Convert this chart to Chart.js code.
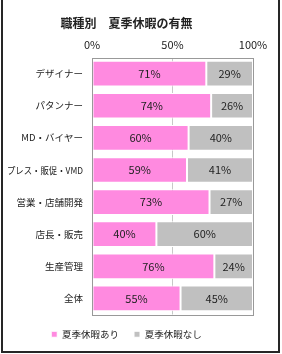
<!DOCTYPE html>
<html lang="ja">
<head>
  <meta charset="UTF-8">
  <title>職種別 夏季休暇の有無</title>
  <script src="https://cdn.jsdelivr.net/npm/chart.js"></script>
  <style>
    html, body { margin: 0; padding: 0; background: #fff; }
    #wrap { position: relative; width: 282px; height: 354px; }
    #frame {
      position: absolute; left: 1px; top: -2px; width: 275px; height: 351px;
      border: 2px solid #262626; pointer-events: none;
    }
  </style>
</head>
<body>
  <div id="wrap">
    <canvas id="chart" width="282" height="354"></canvas>
    <div id="frame"></div>
  </div>

  <script>
    // データ
    const categories = ['デザイナー', 'パタンナー', 'MD・バイヤー', 'プレス・販促・VMD', '営業・店舗開発', '店長・販売', '生産管理', '全体'];
    const withVacation = [71, 74, 60, 59, 73, 40, 76, 55];
    const withoutVacation = [29, 26, 40, 41, 27, 60, 24, 45];
    const seriesNames = ['夏季休暇あり', '夏季休暇なし'];
    const xTicks = [0, 50, 100];

    const FONT = '"Noto Sans CJK JP", "Noto Sans", sans-serif';

    // 各バーの中央に値を描く
    const valueLabels = {
      id: 'valueLabels',
      afterDatasetsDraw(chart) {
        const ctx = chart.ctx;
        ctx.save();
        ctx.font = '11px ' + FONT;
        ctx.fillStyle = '#222';
        ctx.textAlign = 'center';
        ctx.textBaseline = 'middle';
        chart.data.datasets.forEach((ds, i) => {
          chart.getDatasetMeta(i).data.forEach((bar, j) => {
            const p = bar.getProps(['x', 'y', 'base'], true);
            ctx.fillText(ds.data[j] + '%', (p.x + p.base) / 2, p.y);
          });
        });
        ctx.restore();
      }
    };

    // カテゴリ名（長いものは幅に合わせて詰める）
    const categoryLabels = {
      id: 'categoryLabels',
      afterDraw(chart) {
        const ctx = chart.ctx;
        const yScale = chart.scales.y;
        const x = chart.chartArea.left - 9;
        ctx.save();
        ctx.font = '9.5px ' + FONT;
        ctx.fillStyle = '#222';
        ctx.textAlign = 'right';
        ctx.textBaseline = 'middle';
        chart.data.labels.forEach((label, i) => {
          ctx.fillText(label, x, yScale.getPixelForValue(i), 76);
        });
        ctx.restore();
      }
    };

    // プロットエリアの枠線
    const plotFrame = {
      id: 'plotFrame',
      afterDraw(chart) {
        const a = chart.chartArea;
        const ctx = chart.ctx;
        ctx.save();
        ctx.strokeStyle = '#999';
        ctx.lineWidth = 1;
        ctx.strokeRect(Math.round(a.left) + 0.5, Math.round(a.top) + 0.5,
          Math.round(a.right - a.left), Math.round(a.bottom - a.top));
        ctx.restore();
      }
    };

    const ctx = document.getElementById('chart').getContext('2d');
    new Chart(ctx, {
      type: 'bar',
      data: {
        labels: categories,
        datasets: [
          {
            label: seriesNames[0],
            data: withVacation,
            backgroundColor: '#ff8ae0',
            borderColor: '#fff',
            borderWidth: 1,
            borderSkipped: false
          },
          {
            label: seriesNames[1],
            data: withoutVacation,
            backgroundColor: '#c0c0c0',
            borderColor: '#fff',
            borderWidth: 1,
            borderSkipped: false
          }
        ]
      },
      options: {
        indexAxis: 'y',
        responsive: false,
        animation: false,
        categoryPercentage: 1,
        barPercentage: 0.8,
        layout: { padding: { left: 0, right: 29, top: 0, bottom: 5 } },
        scales: {
          x: {
            position: 'top',
            stacked: true,
            min: 0,
            max: 100,
            afterBuildTicks(axis) { axis.ticks = xTicks.map(v => ({ value: v })); },
            border: { display: false },
            grid: {
              drawTicks: false,
              color: c => (c.tick && c.tick.value === 50 ? '#c8c8c8' : 'rgba(0,0,0,0)'),
              borderDash: [2, 2]
            },
            ticks: {
              padding: 6,
              color: '#222',
              font: { family: FONT, size: 11 },
              callback: v => v + '%'
            }
          },
          y: {
            stacked: true,
            afterFit(axis) { axis.width = 92; },
            border: { display: false },
            grid: { display: false, drawTicks: false },
            ticks: { display: false }
          }
        },
        plugins: {
          title: {
            display: true,
            text: '職種別　夏季休暇の有無',
            color: '#222',
            font: { family: FONT, size: 12, weight: 'bold' },
            padding: { top: 16, bottom: 2 }
          },
          legend: {
            position: 'bottom',
            labels: {
              boxWidth: 6,
              boxHeight: 6,
              padding: 15,
              color: '#222',
              font: { family: FONT, size: 9.5 }
            }
          },
          tooltip: { enabled: false }
        }
      },
      plugins: [valueLabels, categoryLabels, plotFrame]
    });
  </script>
</body>
</html>
